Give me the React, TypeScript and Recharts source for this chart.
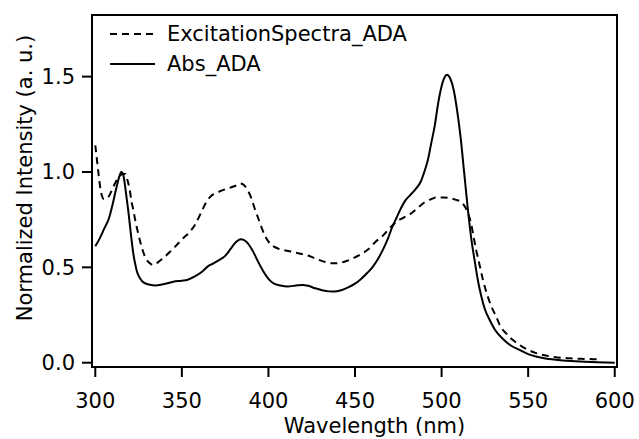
import { LineChart, Line, XAxis, YAxis, ReferenceArea } from "recharts";

const absWl = [
  300, 303, 305, 308, 310, 312, 314, 315, 316, 317, 318, 319, 320, 321, 322, 323, 324, 326, 328, 331,
  335, 341, 345, 350, 353, 358, 362, 365, 368, 371, 375, 378, 381, 384, 386, 388, 391, 394, 397, 400,
  403, 407, 411, 416, 420, 423, 427, 431, 435, 438, 442, 446, 450, 453, 457, 460, 463, 466, 469, 471,
  474, 476, 479, 482, 485, 488, 490, 492, 494, 496, 498, 500, 502, 503, 505, 507, 509, 511, 513, 515,
  517, 519, 521, 523, 525, 528, 531, 535, 540, 545, 550, 555, 560, 570, 580, 590, 600,
];
const absVal = [
  0.61, 0.66, 0.7, 0.76, 0.83, 0.91, 0.98, 1.0, 0.99, 0.94, 0.87, 0.8, 0.72, 0.64, 0.57, 0.52, 0.48, 0.44, 0.42, 0.41,
  0.405, 0.415, 0.425, 0.43, 0.434, 0.455, 0.48, 0.505, 0.52, 0.535, 0.56, 0.595, 0.63, 0.647, 0.643, 0.627, 0.585, 0.53, 0.48, 0.44,
  0.416, 0.405, 0.4, 0.405, 0.408, 0.403, 0.39, 0.38, 0.374, 0.373, 0.38, 0.395, 0.415, 0.435, 0.47, 0.5, 0.54, 0.59, 0.65, 0.7,
  0.76, 0.8, 0.85, 0.88, 0.91, 0.95, 1.0, 1.06, 1.15, 1.24, 1.36, 1.45, 1.5, 1.51, 1.49, 1.43, 1.32, 1.18, 1.0, 0.82,
  0.66, 0.54, 0.43, 0.346, 0.28, 0.22, 0.17, 0.128, 0.09, 0.067, 0.045, 0.031, 0.022, 0.012, 0.006, 0.003, 0.0,
];

const excWl = [
  300, 301, 302, 303, 304, 305, 306, 308, 310, 312, 314, 316, 317.5, 318.5, 320, 321, 322, 323, 325, 327,
  329, 331, 333.5, 336, 339, 343, 347, 351, 355, 358, 361, 364, 367, 370, 374, 378, 381, 384, 386, 388,
  390, 392, 394, 396, 398, 400, 403, 406, 410, 416, 420, 424, 428, 432, 437, 441, 445, 449, 453, 458,
  462, 466, 470, 474, 478, 482, 486, 490, 494, 497, 501, 505, 508, 511, 513, 515, 517, 518.5, 520, 522,
  524, 526.7, 529, 531.6, 534, 537.3, 541, 545, 550, 555, 560, 565, 574, 582, 590,
];
const excVal = [
  1.14, 1.06, 0.98, 0.91, 0.87, 0.857, 0.86, 0.875, 0.915, 0.95, 0.98, 0.99, 0.99, 0.96, 0.9, 0.84, 0.8, 0.75, 0.67, 0.6,
  0.55, 0.525, 0.512, 0.525, 0.547, 0.58, 0.617, 0.655, 0.69, 0.73, 0.785, 0.84, 0.875, 0.89, 0.906, 0.918, 0.928, 0.94, 0.93, 0.905,
  0.865, 0.81, 0.76, 0.71, 0.665, 0.635, 0.61, 0.597, 0.588, 0.577, 0.568, 0.558, 0.543, 0.53, 0.521, 0.523, 0.533, 0.548, 0.567, 0.597,
  0.635, 0.665, 0.705, 0.74, 0.76, 0.78, 0.81, 0.84, 0.857, 0.866, 0.866, 0.862, 0.855, 0.844, 0.825, 0.79, 0.73, 0.66, 0.59, 0.51,
  0.43, 0.346, 0.29, 0.24, 0.19, 0.154, 0.12, 0.093, 0.067, 0.049, 0.038, 0.03, 0.023, 0.02, 0.018,
];

const xTicks = [300, 350, 400, 450, 500, 550, 600];
const yTicks = [0, 0.5, 1.0, 1.5];

const X_DOMAIN = [298.1, 601.3];
const Y_DOMAIN = [-0.0225, 1.823];

const absData = absWl.map((w, i) => ({ wl: w, v: absVal[i] }));
const excData = excWl.map((w, i) => ({ wl: w, v: excVal[i] }));

const FONT = "'DejaVu Sans', Verdana, sans-serif";

const series = [
  { name: "ExcitationSpectra_ADA", dash: "7 5" },
  { name: "Abs_ADA", dash: undefined as string | undefined },
];

function LegendBox() {
  return (
    <div style={{ position: "absolute", left: 110, top: 19, fontFamily: FONT, fontSize: 21, color: "#000" }}>
      {series.map((s) => (
        <div key={s.name} style={{ display: "flex", alignItems: "center", height: 30 }}>
          <svg width={45} height={6} style={{ marginRight: 12 }}>
            <line x1={0} y1={3} x2={45} y2={3} stroke="#000" strokeWidth={2} strokeDasharray={s.dash} />
          </svg>
          <span style={{ lineHeight: "30px", whiteSpace: "nowrap" }}>{s.name}</span>
        </div>
      ))}
    </div>
  );
}

export default function App() {
  return (
    <div style={{ position: "absolute", left: 0, top: 0, width: 639, height: 439, background: "#fff" }}>
      <LineChart width={639} height={439} margin={{ top: 15, right: 22, bottom: 22, left: 32 }}>
        <XAxis
          dataKey="wl"
          type="number"
          domain={X_DOMAIN}
          ticks={xTicks}
          allowDataOverflow
          height={50}
          tickSize={10}
          tickMargin={16}
          axisLine={{ stroke: "#000", strokeWidth: 2 }}
          tickLine={{ stroke: "#000", strokeWidth: 2 }}
          tick={{ fill: "#000", fontSize: 21, fontFamily: FONT }}
          label={{
            content: (p: any) => (
              <text
                x={p.viewBox.x + p.viewBox.width / 2 + 20}
                y={p.viewBox.y + 66}
                textAnchor="middle"
                fontSize={21}
                fontFamily={FONT}
                fill="#000"
              >
                Wavelength (nm)
              </text>
            ),
          }}
        />
        <YAxis
          type="number"
          domain={Y_DOMAIN}
          ticks={yTicks}
          allowDataOverflow
          width={60}
          tickSize={10}
          tickMargin={7}
          tickFormatter={(v: number) => v.toFixed(1)}
          axisLine={{ stroke: "#000", strokeWidth: 2 }}
          tickLine={{ stroke: "#000", strokeWidth: 2 }}
          tick={{ fill: "#000", fontSize: 21, fontFamily: FONT }}
          label={{
            content: (p: any) => {
              const cx = p.viewBox.x;
              const cy = p.viewBox.y + p.viewBox.height / 2 - 13;
              return (
                <text
                  x={cx}
                  y={cy}
                  transform={`rotate(-90, ${cx}, ${cy})`}
                  textAnchor="middle"
                  fontSize={21}
                  fontFamily={FONT}
                  fill="#000"
                >
                  Normalized Intensity (a. u.)
                </text>
              );
            },
          }}
        />
        <ReferenceArea
          x1={X_DOMAIN[0]}
          x2={X_DOMAIN[1]}
          y1={Y_DOMAIN[0]}
          y2={Y_DOMAIN[1]}
          fill="none"
          stroke="#000"
          strokeWidth={2}
          fillOpacity={0}
        />
        <Line
          data={excData}
          dataKey="v"
          name="ExcitationSpectra_ADA"
          type="monotone"
          stroke="#000"
          strokeWidth={2}
          strokeDasharray="7 5"
          dot={false}
          activeDot={false}
          isAnimationActive={false}
        />
        <Line
          data={absData}
          dataKey="v"
          name="Abs_ADA"
          type="monotone"
          stroke="#000"
          strokeWidth={2}
          dot={false}
          activeDot={false}
          isAnimationActive={false}
        />
      </LineChart>
      <LegendBox />
    </div>
  );
}
